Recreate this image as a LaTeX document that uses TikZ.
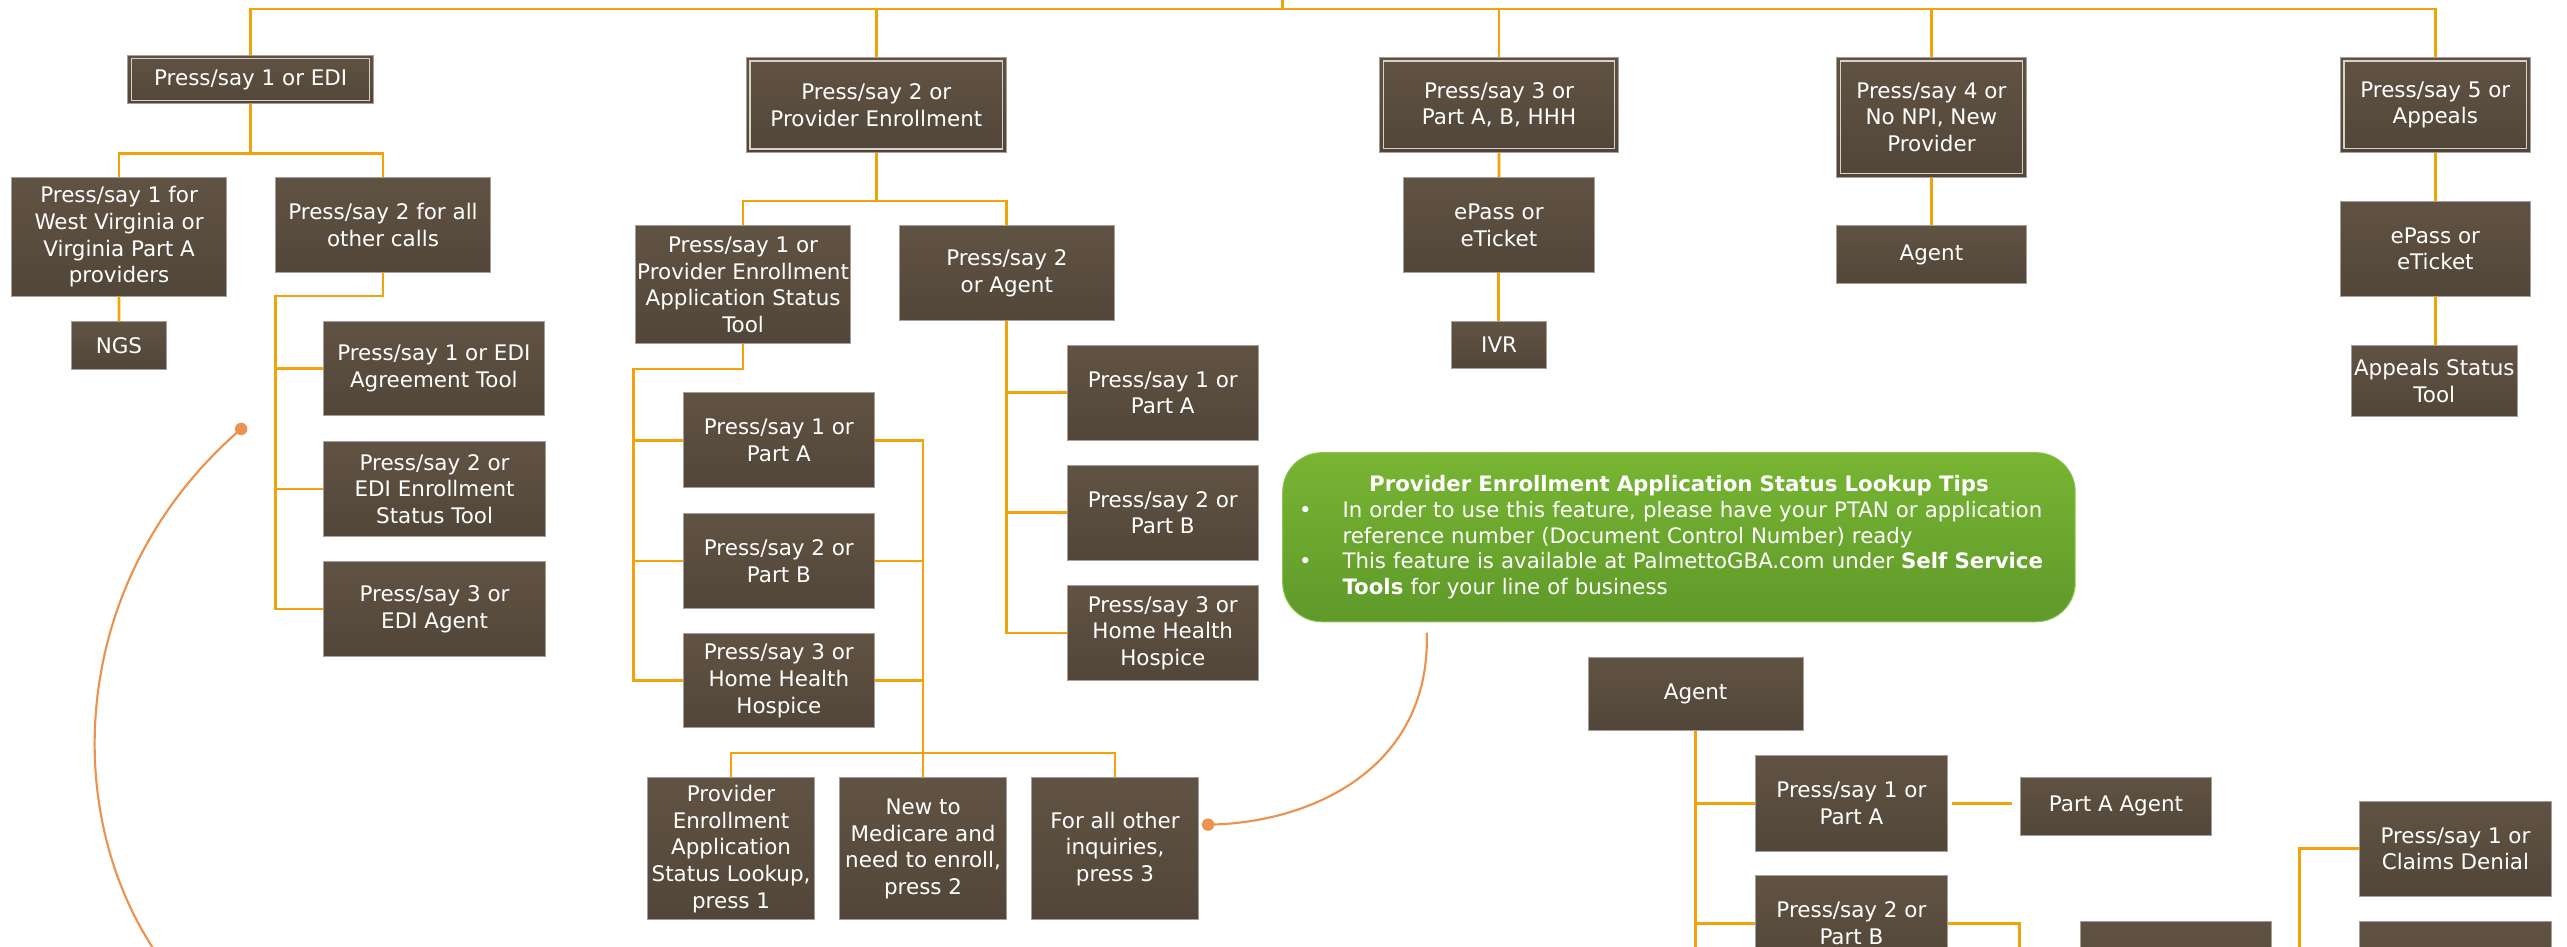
\documentclass[tikz,border=0pt]{standalone}
\usepackage{fontspec}
\setmainfont{DejaVu Sans}
\definecolor{brownTop}{RGB}{97,83,67}
\definecolor{brownBot}{RGB}{81,70,57}
\definecolor{boxline}{RGB}{165,158,150}
\definecolor{innerline}{RGB}{215,209,200}
\definecolor{orangeC}{RGB}{240,163,10}
\definecolor{curveC}{RGB}{234,146,78}
\definecolor{greenTop}{RGB}{120,181,50}
\definecolor{greenBot}{RGB}{95,153,42}
\definecolor{greenEdge}{RGB}{140,195,80}
\tikzset{
  box/.style={rectangle, draw=boxline, line width=0.6pt, top color=brownTop, bottom color=brownBot,
    text=white, align=center, inner sep=0pt, font=\fontsize{13.1}{16.3}\selectfont},
  innerbox/.style={draw=innerline, line width=0.7pt},
  conn/.style={draw=orangeC, line width=1.7pt},
  curvec/.style={draw=curveC, line width=1.3pt},
  tipsbox/.style={rectangle, rounded corners=24pt, top color=greenTop, bottom color=greenBot,
    draw=greenEdge, line width=0.6pt, text=white, inner sep=0pt, font=\fontsize{13}{15.8}\selectfont}
}
\newcommand\bx[6]{\node[box, minimum width={(#4-#2)*1pt}, minimum height={(#5-#3)*1pt}] (#1) at ({(#2+#4)/2},{(#3+#5)/2}) {#6};}
\newcommand\tbx[6]{\bx{#1}{#2}{#3}{#4}{#5}{#6}\draw[innerbox] ([shift={(2.6,2.6)}]#1.north west) rectangle ([shift={(-2.6,-2.6)}]#1.south east);}
\begin{document}
\begin{tikzpicture}[x=1pt,y=-1pt]
\useasboundingbox (0,0) rectangle (1568,578.4);
\fill[white] (0,0) rectangle (1568,578.4);
\clip (0,0) rectangle (1568,578.4);

% top level
\tbx{edi}{78.1}{33.6}{228.2}{63.5}{Press/say 1 or EDI}
\tbx{pe}{455.8}{35}{614.8}{93.3}{Press/say 2 or\\Provider Enrollment}
\tbx{abh}{842.8}{35}{988.5}{93}{Press/say 3 or\\Part A, B, HHH}
\tbx{npi}{1121.7}{35}{1237.8}{108.3}{Press/say 4 or\\No NPI, New\\Provider}
\tbx{app}{1429.5}{35}{1545.6}{93}{Press/say 5 or\\Appeals}

% EDI branch
\bx{wv}{7.2}{108.5}{138.3}{180.8}{Press/say 1 for\\West Virginia or\\Virginia Part A\\providers}
\bx{oth}{168.4}{108.5}{299.5}{166.4}{Press/say 2 for all\\other calls}
\bx{ngs}{43.6}{196.5}{101.7}{225.4}{NGS}
\bx{agr}{197.4}{196.5}{332.6}{253.9}{Press/say 1 or EDI\\Agreement Tool}
\bx{enr}{197.7}{269.9}{333.2}{327.4}{Press/say 2 or\\EDI Enrollment\\Status Tool}
\bx{edag}{197.7}{343.2}{333.2}{400.7}{Press/say 3 or\\EDI Agent}

% Provider enrollment branch
\bx{peast}{388.3}{137.9}{519.5}{210.1}{Press/say 1 or\\Provider Enrollment\\Application Status\\Tool}
\bx{peag}{549.3}{137.9}{680.7}{195.9}{Press/say 2\\or Agent}
\bx{la}{417.5}{240}{534}{298}{Press/say 1 or\\Part A}
\bx{lb}{417.5}{313.8}{534}{371.5}{Press/say 2 or\\Part B}
\bx{lh}{417.5}{387.1}{534}{444.6}{Press/say 3 or\\Home Health\\Hospice}
\bx{ra}{652}{211}{768.5}{268.8}{Press/say 1 or\\Part A}
\bx{rb}{652}{284.4}{768.5}{342.1}{Press/say 2 or\\Part B}
\bx{rh}{652}{357.9}{768.5}{415.4}{Press/say 3 or\\Home Health\\Hospice}
\bx{b1}{395.7}{475.1}{497.4}{561.9}{Provider\\Enrollment\\Application\\Status Lookup,\\press 1}
\bx{b2}{513}{475.1}{614.7}{561.9}{New to\\Medicare and\\need to enroll,\\press 2}
\bx{b3}{630.2}{475.1}{731.9}{561.9}{For all other\\inquiries,\\press 3}

% Part A B HHH branch
\bx{abep}{857.2}{108.5}{973.9}{166.4}{ePass or\\eTicket}
\bx{ivr}{886.9}{196.5}{944.5}{225}{IVR}

% NPI branch
\bx{npag}{1121.7}{137.9}{1237.8}{173.3}{Agent}

% Appeals branch
\bx{apep}{1429.5}{123}{1545.6}{180.8}{ePass or\\eTicket}
\bx{ast}{1436.1}{211}{1537.7}{254.1}{Appeals Status\\Tool}

% Agent tree (lower right)
\bx{agent}{970}{401.6}{1101.4}{446.3}{Agent}
\bx{aa}{1072.3}{461.7}{1189.5}{519.9}{Press/say 1 or\\Part A}
\bx{aaag}{1234}{475}{1351}{510.1}{Part A Agent}
\bx{ab}{1072.3}{534.9}{1189.5}{593.1}{Press/say 2 or\\Part B}
\bx{mid}{1270.6}{563}{1387.4}{620}{}
\bx{cd}{1441.4}{489.5}{1558.3}{547.3}{Press/say 1 or\\Claims Denial}
\bx{lr}{1441.4}{563}{1558.3}{620}{}

% tips box
\node[tipsbox, minimum width=484.1pt, minimum height=103.3pt, text width=464pt] (tips) at (1025.55,328.15) {%
  \centering\bfseries Provider Enrollment Application Status Lookup Tips\par
  \raggedright\mdseries\leftskip=26.5pt
  \noindent\llap{\makebox[26.5pt][l]{\textbullet}}In order to use this feature, please have your PTAN or application\\reference number (Document Control Number) ready\par
  \noindent\llap{\makebox[26.5pt][l]{\textbullet}}This feature is available at PalmettoGBA.com under \textbf{Self Service}\\\textbf{Tools} for your line of business\par};

% named free ends
\coordinate (root) at (783.5,-3);
\coordinate (otrunk) at (168.3,180.8);
\coordinate (ptrunk) at (386.8,225.4);
\coordinate (agbot) at (1035.7,600);
\coordinate (abdown) at (1233.4,600);
\coordinate (cddown) at (1404.4,600);
\coordinate (dotA) at (147.3,262);
\coordinate (endA) at (94,580);
\coordinate (gtail) at (871.5,386.5);
\coordinate (dotB) at (737.9,503.7);

% top connectors
\draw[conn] (root) -- (root |- 0,5.5);
\draw[conn] (edi.north) -- (edi.north |- 0,5.5) -- (app.north |- 0,5.5) -- (app.north);
\draw[conn] (pe.north) -- (pe.north |- 0,5.5);
\draw[conn] (abh.north) -- (abh.north |- 0,5.5);
\draw[conn] (npi.north) -- (npi.north |- 0,5.5);

% EDI connectors
\draw[conn] (edi.south) -- (edi.south |- 0,93.7);
\draw[conn] (wv.north) -- (wv.north |- 0,93.7) -- (oth.north |- 0,93.7) -- (oth.north);
\draw[conn] (wv.south) -- (ngs.north);
\draw[conn] (oth.south) |- (otrunk) |- (edag.west);
\draw[conn] (otrunk |- agr.west) -- (agr.west);
\draw[conn] (otrunk |- enr.west) -- (enr.west);

% PE connectors
\draw[conn] (pe.south) -- (pe.south |- 0,122.8);
\draw[conn] (peast.north) -- (peast.north |- 0,122.8) -- (peag.north |- 0,122.8) -- (peag.north);
\draw[conn] (peast.south) |- (ptrunk) |- (lh.west);
\draw[conn] (ptrunk |- la.west) -- (la.west);
\draw[conn] (ptrunk |- lb.west) -- (lb.west);
\draw[conn] (peag.south) |- (rh.west);
\draw[conn] (peag.south |- ra.west) -- (ra.west);
\draw[conn] (peag.south |- rb.west) -- (rb.west);
\draw[conn] (la.east) -| (b2.north);
\draw[conn] (lb.east) -- (lb.east -| b2.north);
\draw[conn] (lh.east) -- (lh.east -| b2.north);
\draw[conn] (b1.north) -- (b1.north |- 0,460) -- (b3.north |- 0,460) -- (b3.north);

% other columns
\draw[conn] (abh.south) -- (abep.north);
\draw[conn] (abep.south) -- (abep.south |- ivr.north);
\draw[conn] (npi.south) -- (npag.north);
\draw[conn] (app.south) -- (apep.north);
\draw[conn] (apep.south) -- (apep.south |- ast.north);

% agent tree
\draw[conn] (agent.south) -- (agbot);
\draw[conn] (agbot |- aa.west) -- (aa.west);
\draw[conn] (agbot |- ab.west) -- (ab.west);
\draw[conn, shorten <=2.4pt, shorten >=4.5pt] (aa.east) -- (aa.east -| aaag.west);
\draw[conn] (ab.west -| ab.east) -| (abdown);
\draw[conn] (cd.west) -| (cddown);

% callout curves
\draw[curvec] (dotA) .. controls (45,350) and (35,490) .. (endA);
\fill[curveC] (dotA) circle (3.8);
\draw[curvec] (gtail) .. controls (874,470) and (800,503) .. (dotB);
\fill[curveC] (dotB) circle (3.8);
\end{tikzpicture}
\end{document}
